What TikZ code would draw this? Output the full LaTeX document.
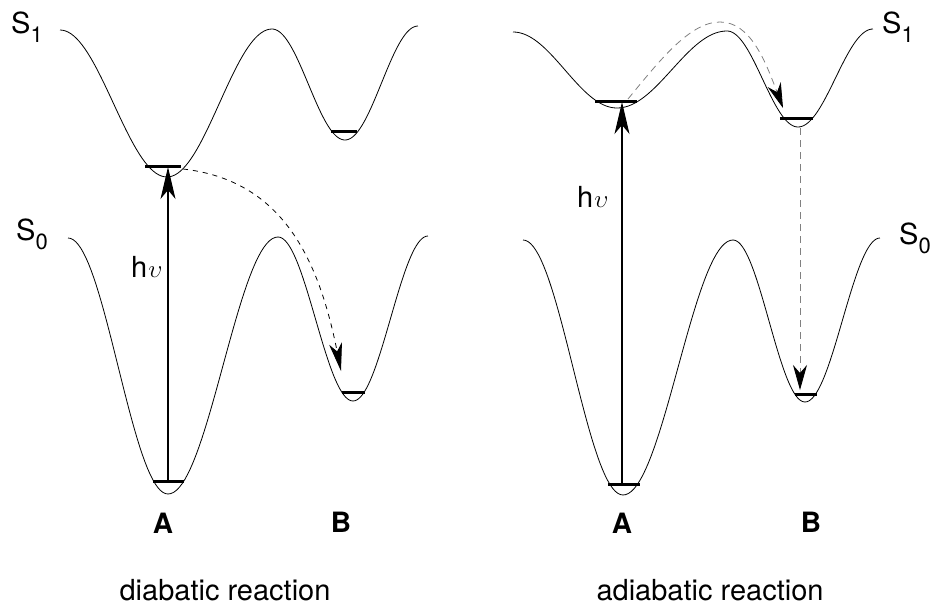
\documentclass[tikz,border=0pt]{standalone}
\usepackage{fontspec}
\setmainfont{TeX Gyre Heros}
\usetikzlibrary{arrows.meta}
\newcommand{\cosarc}[4]{\draw[pes] plot[domain=0:1,samples=40] ({#1+(#3-#1)*\x},{#2+(#4-#2)*(1-cos(180*\x))/2});}
\newcommand{\stt}[2]{#1\raisebox{-9pt}{\fontsize{22}{22}\selectfont #2}}
\newcommand{\hnu}{h\kern1pt$\upsilon$}
\begin{document}
\begin{tikzpicture}[x=1pt,y=-1pt,
  pes/.style={line width=0.8pt},
  lvl/.style={line width=3pt},
  photon/.style={line width=1.4pt,-{Stealth[length=32pt,width=15pt,inset=9pt]}},
  relaxA/.style={line width=0.8pt,dash pattern=on 5pt off 5pt,-{Stealth[length=28pt,width=13pt,inset=8pt,color=black]}},
  relaxB/.style={line width=0.8pt,gray,dash pattern=on 7pt off 5pt,-{Stealth[length=25pt,width=14pt,inset=8pt,color=black]}},
  lbl/.style={font=\fontsize{29}{29}\selectfont,inner sep=0pt,anchor=base west},
  blbl/.style={font=\fontsize{28}{28}\selectfont\bfseries,inner sep=0pt,anchor=base},
  tlbl/.style={font=\fontsize{29}{29}\selectfont,inner sep=0pt,anchor=base}]
\useasboundingbox (0,0) rectangle (935,605);
% ---------- left panel ----------
\cosarc{60}{30}{167}{177}
\cosarc{167}{177}{272}{29}
\cosarc{272}{29}{345}{140}
\cosarc{345}{140}{418}{26}
\cosarc{68}{238}{168}{494}
\cosarc{168}{494}{278}{237}
\cosarc{278}{237}{353}{401}
\cosarc{353}{401}{428}{236}
\draw[lvl] (145,166) -- (181,166);
\draw[lvl] (331,131) -- (357,131);
\draw[lvl] (153,481) -- (184,481);
\draw[lvl] (342,392) -- (365,392);
\coordinate (lA0) at (168,481);
\coordinate (lA1) at (168,167);
\coordinate (ls) at (183,169);
\coordinate (le) at (341,371);
\draw[photon] (lA0) -- (lA1);
\draw[relaxA] (ls) .. controls (280,180) and (318,255) .. (le);
\node[lbl] (lS1) at (11,34) {\stt{S}{1}};
\node[lbl] (lS0) at (16,240) {\stt{S}{0}};
\node[lbl] (lhv) at (131,277) {\hnu};
\node[blbl] (lA) at (163,533) {A};
\node[blbl] (lB) at (341,532) {B};
\node[tlbl] (ltitle) at (225,600) {diabatic reaction};
% ---------- right panel ----------
\cosarc{513}{32}{617}{108}
\cosarc{617}{108}{727}{31}
\cosarc{727}{31}{798}{127}
\cosarc{798}{127}{873}{29}
\cosarc{523}{240}{623}{495}
\cosarc{623}{495}{733}{240}
\cosarc{733}{240}{805}{402}
\cosarc{805}{402}{880}{238}
\draw[lvl] (595,101) -- (637,101);
\draw[lvl] (780,118) -- (813,118);
\draw[lvl] (608,484) -- (640,484);
\draw[lvl] (795,394) -- (817,394);
\coordinate (rA0) at (622,484);
\coordinate (rA1) at (622,102);
\coordinate (rs) at (628,99);
\coordinate (rtop) at (720,22);
\coordinate (re) at (783,108);
\coordinate (rv0) at (800,128);
\coordinate (rv1) at (800,390);
\draw[photon] (rA0) -- (rA1);
\draw[relaxB] (rs) .. controls (660,60) and (690,22) .. (rtop) .. controls (750,22) and (765,60) .. (re);
\draw[relaxB] (rv0) -- (rv1);
\node[lbl] (rS1) at (882,34) {\stt{S}{1}};
\node[lbl] (rS0) at (899,244) {\stt{S}{0}};
\node[lbl] (rhv) at (577,207) {\hnu};
\node[blbl] (rA) at (622,533) {A};
\node[blbl] (rB) at (811,532) {B};
\node[tlbl] (rtitle) at (710,600) {adiabatic reaction};
\end{tikzpicture}
\end{document}
